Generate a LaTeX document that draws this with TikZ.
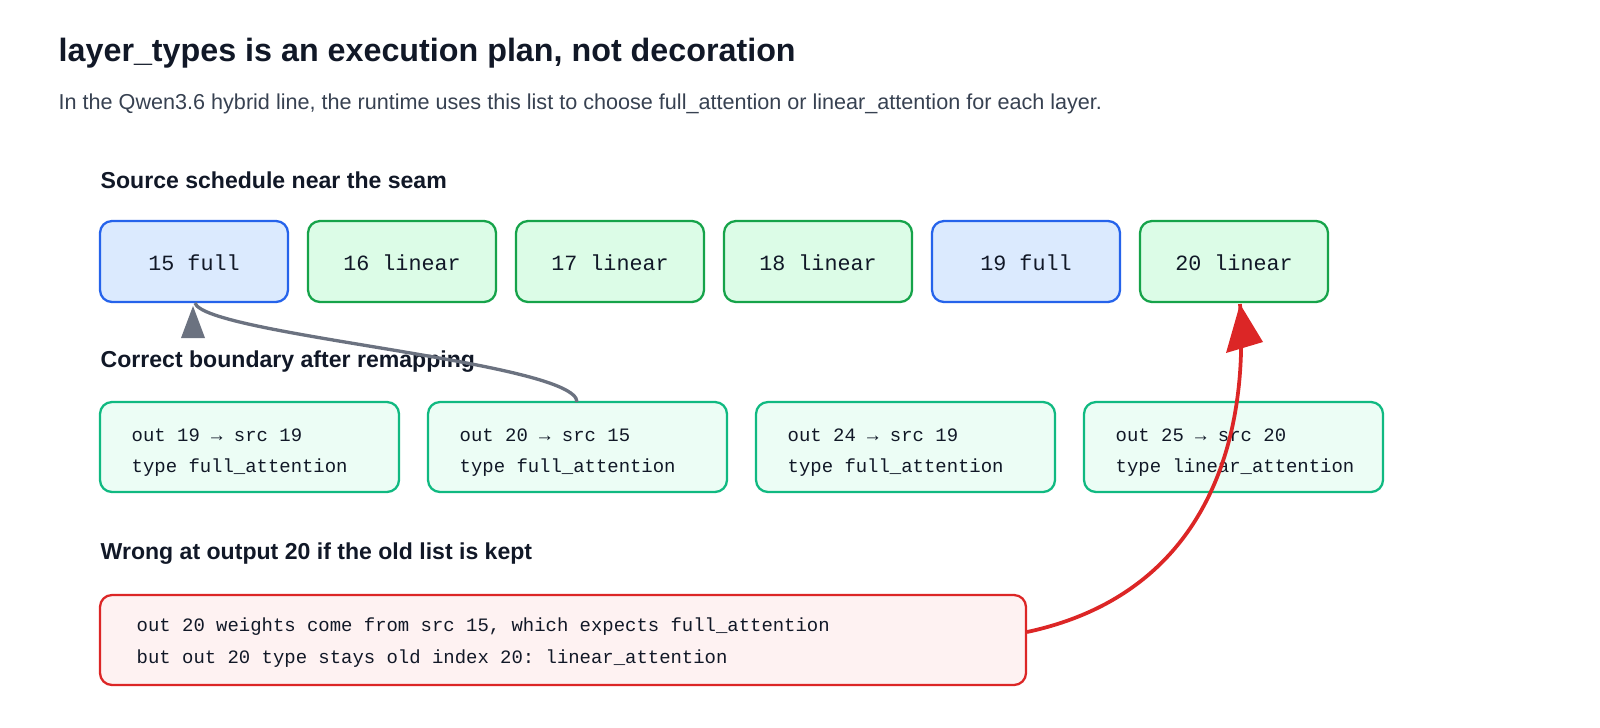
\documentclass[tikz,border=0pt]{standalone}
\usepackage{fontspec}
\setmainfont{Liberation Sans}
\setmonofont{Liberation Mono}
\definecolor{bluB}{HTML}{2563EB}\definecolor{bluF}{HTML}{DBEAFE}
\definecolor{grnB}{HTML}{16A34A}\definecolor{grnF}{HTML}{DCFCE7}
\definecolor{mgrB}{HTML}{10B981}\definecolor{mgrF}{HTML}{ECFDF5}
\definecolor{redB}{HTML}{DC2626}\definecolor{redF}{HTML}{FEF2F2}
\definecolor{gry}{HTML}{6B7280}\definecolor{ink}{HTML}{111827}
\definecolor{sub}{HTML}{374151}
\begin{document}
\begin{tikzpicture}[x=0.75pt,y=-0.75pt,
  box/.style={draw,rounded corners=9pt,line width=1.7pt,inner sep=0pt},
  blu/.style={box,draw=bluB,fill=bluF},
  grn/.style={box,draw=grnB,fill=grnF},
  mgr/.style={box,draw=mgrB,fill=mgrF},
  redbox/.style={box,draw=redB,fill=redF},
  mono/.style={font=\ttfamily\fontsize{16.3}{19}\selectfont,text=ink},
  small/.style={font=\ttfamily\fontsize{14.2}{17}\selectfont,text=ink,anchor=west},
  head/.style={font=\bfseries\fontsize{17.3}{20}\selectfont,text=ink,anchor=west}]
\node[anchor=west,font=\bfseries\fontsize{24.2}{28}\selectfont,text=ink] (title) at (54,53) {layer\_types is an execution plan, not decoration};
\node[anchor=west,font=\fontsize{16.2}{19}\selectfont,text=sub] (subt) at (54,104) {In the Qwen3.6 hybrid line, the runtime uses this list to choose full\_attention or linear\_attention for each layer.};
\node[head] (h1) at (96,180) {Source schedule near the seam};
\node[head] (h2) at (96,362) {Correct boundary after remapping};
\node[head] (h3) at (96,554) {Wrong at output 20 if the old list is kept};
% top row
\foreach \n/\x/\s/\t in {a/100/blu/15 full,b/308/grn/16 linear,c/516/grn/17 linear,d/724/grn/18 linear,e/932/blu/19 full,f/1140/grn/20 linear}{
  \path[\s] (\x,221) rectangle ++(188,81);
  \node[mono] (\n) at (\x+94,263) {\t};
}
\coordinate (ab) at (195,303);
\coordinate (fb) at (1240,304);
% middle row
\foreach \n/\x/\a/\b in {m1/100/out 19 → src 19/type full\_attention,m2/428/out 20 → src 15/type full\_attention,m3/756/out 24 → src 19/type full\_attention,m4/1084/out 25 → src 20/type linear\_attention}{
  \path[mgr] (\x,402) rectangle ++(299,90);
  \node[small] (\n a) at (\x+27,435) {\a};
  \node[small] (\n b) at (\x+27,468) {\b};
}
\coordinate (m2t) at (577,402);
% red box
\path[redbox] (100,595) rectangle (1026,685);
\node[small] (r1) at (132,627) {out 20 weights come from src 15, which expects full\_attention};
\node[small] (r2) at (132,659) {but out 20 type stays old index 20: linear\_attention};
\coordinate (rr) at (1027,632);
% connectors
\draw[gry,line width=2.5pt] (m2t) .. controls (577,362) and (205,335) .. (ab);
\fill[gry] (193,306) -- (205,338) -- (181,338) -- cycle;
\draw[redB,line width=2.8pt] (rr) .. controls (1200,595) and (1250,450) .. (fb);
\fill[redB] (1240,304) -- (1263,342) -- (1226,353) -- cycle;
\pgfresetboundingbox
\useasboundingbox (0,0) rectangle (1600,728);
\end{tikzpicture}
\end{document}
